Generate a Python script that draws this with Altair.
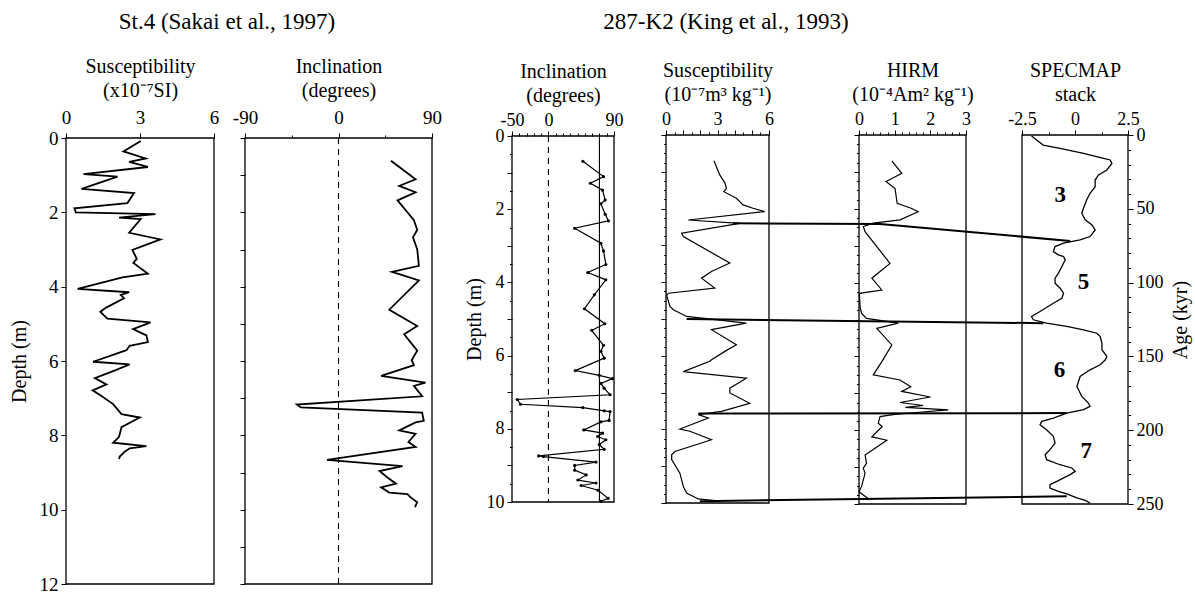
import altair as alt
import pandas as pd

FONT = "Liberation Serif"

headers = ["St.4 (Sakai et al., 1997)", "287-K2 (King et al., 1993)"]

# ---------------- St.4 susceptibility (x10^-7 SI) vs depth (m)
st4_sus_depth = [0.08, 0.36, 0.55, 0.64, 0.78, 0.97, 1.04, 1.37, 1.48, 1.75, 1.89, 2.00, 2.05, 2.14, 2.18,
                 2.55, 2.73, 3.01, 3.25, 3.36, 3.65, 3.75, 4.06, 4.15, 4.22, 4.31, 4.57, 4.68, 4.86, 4.96,
                 5.14, 5.31, 5.49, 5.59, 5.71, 6.02, 6.09, 6.24, 6.46, 6.63, 6.79, 6.94, 7.16, 7.43, 7.52,
                 7.78, 8.04, 8.20, 8.29, 8.35, 8.44, 8.57, 8.64]
st4_sus_val = [3.03, 2.33, 3.23, 2.56, 3.32, 0.71, 2.09, 0.63, 2.76, 2.49, 0.34, 0.40, 3.63, 2.15, 3.03,
               2.56, 3.83, 2.69, 2.87, 2.73, 3.32, 2.29, 0.47, 2.56, 2.22, 2.35, 1.61, 1.39, 1.68, 3.43,
               2.72, 3.26, 3.32, 2.58, 2.45, 1.10, 2.58, 2.04, 1.17, 1.64, 1.08, 1.44, 1.91, 2.25, 2.99,
               2.25, 2.15, 1.91, 3.26, 2.58, 2.38, 2.18, 2.15]

# ---------------- St.4 inclination (degrees)
st4_inc_depth = [0.61, 1.11, 1.29, 1.46, 1.68, 2.21, 2.47, 2.67, 3.00, 3.44, 3.60, 3.83, 4.62, 5.06, 5.28,
                 5.72, 5.98, 6.11, 6.40, 6.58, 6.67, 6.95, 7.17, 7.25, 7.39, 7.61, 7.65, 7.87, 7.96, 8.18,
                 8.31, 8.66, 8.83, 8.96, 9.14, 9.30, 9.40, 9.54, 9.58, 9.67, 9.80, 9.93]
st4_inc_val = [50.5, 74.2, 58.4, 74.2, 56.8, 72.6, 75.8, 71.7, 75.8, 77.4, 51.5, 77.4, 48.9, 75.8, 63.2,
               75.8, 70.4, 72.6, 41.0, 83.7, 72.6, 80.5, -40.1, -36.3, 80.5, 82.1, 74.2, 58.4, 74.2, 67.3,
               74.2, -11.1, 61.6, 39.5, 47.4, 55.3, 41.0, 48.9, 66.3, 69.5, 75.8, 73.6]

# ---------------- 287-K2 inclination (degrees)
k2_inc_depth = [0.69, 1.11, 1.29, 1.48, 1.75, 1.85, 2.14, 2.32, 2.52, 2.93, 3.14, 3.51, 3.73, 3.93, 4.34,
                4.72, 5.13, 5.31, 5.72, 5.88, 6.07, 6.41, 6.54, 6.63, 6.76, 6.89, 7.07, 7.20, 7.33, 7.42,
                7.51, 7.53, 7.77, 7.81, 8.03, 8.12, 8.21, 8.30, 8.43, 8.56, 8.74, 8.76, 8.91, 9.00, 9.13,
                9.26, 9.40, 9.48, 9.55, 9.68, 9.90, 9.98]
k2_inc_val = [47.3, 75.6, 57.6, 74.3, 77.9, 72.0, 77.9, 82.4, 36.0, 72.0, 75.6, 78.8, 54.0, 78.8, 63.0,
              49.5, 77.4, 59.4, 75.6, 72.0, 76.5, 36.9, 69.8, 87.8, 72.0, 76.5, 84.6, -42.8, -38.3, 47.3,
              76.5, 84.6, 83.3, 72.0, 48.6, 74.3, 67.5, 78.8, 69.8, 76.5, -13.5, -6.8, 65.3, 36.0, 36.0,
              51.8, 40.5, 65.3, 45.0, 68.0, 82.0, 72.0]
k2_inc_ref = 70

# ---------------- 287-K2 susceptibility (10^-7 m3/kg)
k2_sus_depth = [0.70, 1.09, 1.30, 1.45, 1.54, 1.72, 1.90, 1.99, 2.08, 2.31, 2.40, 2.67, 2.76, 3.48, 3.71,
                3.89, 4.16, 4.30, 4.36, 4.66, 4.75, 4.93, 5.11, 5.29, 5.70, 5.88, 6.11, 6.15, 6.43, 6.61,
                6.88, 7.01, 7.29, 7.51, 7.60, 7.69, 7.99, 8.05, 8.28, 8.60, 8.69, 8.82, 9.19, 9.55, 9.73,
                9.89, 9.95]
k2_sus_val = [2.79, 3.14, 3.43, 3.52, 3.37, 4.10, 4.49, 5.07, 5.75, 1.30, 4.30, 0.91, 1.01, 3.72, 2.65,
              2.07, 2.84, 0.14, 0.04, 0.23, 0.43, 1.20, 4.68, 2.65, 4.10, 3.43, 2.65, 2.55, 1.01, 4.68,
              3.72, 3.72, 4.88, 3.23, 1.88, 2.46, 0.81, 1.39, 2.65, 0.52, 0.33, 0.33, 0.81, 1.01, 1.20,
              1.88, 3.14]

# ---------------- 287-K2 HIRM (10^-4 Am2/kg)
k2_hirm_depth = [0.70, 1.04, 1.26, 1.45, 1.85, 1.99, 2.08, 2.30, 2.39, 2.48, 2.62, 3.48, 3.88, 4.20, 4.29,
                 4.65, 4.83, 4.97, 5.10, 5.24, 5.69, 6.14, 6.50, 6.64, 6.82, 6.95, 7.10, 7.25, 7.33, 7.38,
                 7.45, 7.52, 7.57, 7.63, 7.81, 7.90, 8.18, 8.27, 8.67, 8.90, 9.03, 9.17, 9.53, 9.67, 9.89]
k2_hirm_val = [0.92, 1.20, 0.76, 1.01, 1.07, 1.48, 1.66, 1.15, 0.40, 0.12, 0.17, 0.87, 0.36, 0.64, 0.01,
               0.03, 0.07, 0.21, 1.10, 0.50, 0.92, 0.64, 0.40, 1.15, 1.45, 1.20, 2.00, 1.15, 1.80, 1.30,
               2.50, 1.60, 1.00, 0.59, 0.54, 0.65, 0.36, 0.78, 0.17, 0.21, 0.12, 0.17, 0.07, 0.00, 0.31]

# ---------------- SPECMAP stack vs age (kyr)
spec_age = [0.7, 3.4, 6.8, 9.0, 12.4, 15.8, 16.9, 19.2, 23.7, 27.1, 30.5, 35.0, 39.5, 44.0, 49.6, 53.0,
            57.5, 60.9, 64.3, 68.8, 71.1, 73.3, 75.6, 79.0, 81.2, 82.4, 84.6, 89.1, 93.6, 97.0, 100.4,
            103.8, 107.2, 110.6, 114.0, 119.6, 123.0, 125.2, 127.5, 129.7, 132.0, 134.3, 136.5, 141.0,
            145.5, 150.0, 152.3, 155.7, 159.1, 163.6, 170.4, 177.1, 181.6, 183.9, 186.1, 188.4, 191.8,
            194.0, 196.3, 199.7, 204.2, 208.7, 213.2, 216.6, 220.0, 223.4, 225.6, 227.9, 230.1, 234.7,
            236.9, 239.2, 241.4, 243.2, 245.9, 247.5, 249.3]
spec_val = [-2.05, -1.81, -1.50, -0.71, 0.40, 1.35, 1.66, 1.74, 1.50, 1.11, 0.95, 0.95, 0.71, 0.55, 0.40,
            0.32, 0.48, 0.80, 0.95, 0.71, 0.24, -0.54, -0.94, -1.02, -0.78, -0.54, -0.46, -0.62, -0.78,
            -0.94, -0.94, -0.70, -0.54, -0.62, -1.02, -1.65, -2.05, -1.97, -1.34, -0.39, 0.40, 1.03, 1.19,
            1.27, 1.27, 1.50, 1.43, 1.19, 0.71, 0.24, 0.09, 0.32, 0.63, 0.71, 0.40, -0.39, -1.02, -1.57,
            -1.65, -1.34, -1.02, -0.94, -1.18, -1.41, -1.34, -0.71, -0.15, 0.01, -0.23, -0.86, -1.18,
            -1.18, -0.78, -0.39, 0.09, 0.48, 0.71]

stage_names = ["3", "5", "6", "7"]
stage_age = [40.6, 99.3, 159.0, 214.0]
stage_val = [-0.69, 0.40, -0.73, 0.53]

# tie lines: (panel, x value in that panel, y value in that panel)
tie_lines = [
    [("p4", 3.91, 2.40), ("p5", 0.59, 2.41), ("p6", -0.23, 71.8)],
    [("p4", 1.20, 5.00), ("p6", -1.49, 127.5)],
    [("p4", 1.88, 7.57), ("p6", -0.39, 188.4)],
    [("p4", 1.97, 9.95), ("p6", -0.39, 244.8)],
]

# ---------------- layout (pixel frames of each panel)
W, H = 1195, 602
FR = {
    "p1": dict(x=(66, 214), y=(138, 584), xd=(0, 6), yd=(0, 12)),
    "p2": dict(x=(245, 432), y=(138, 584), xd=(-90, 90), yd=(0, 12)),
    "p3": dict(x=(512, 614), y=(136, 502), xd=(-50, 90), yd=(0, 10)),
    "p4": dict(x=(666, 769), y=(135, 503), xd=(0, 6), yd=(0, 10)),
    "p5": dict(x=(859, 966), y=(135, 504), xd=(0, 3), yd=(0, 10)),
    "p6": dict(x=(1022, 1128), y=(135, 504), xd=(-2.5, 2.5), yd=(0, 250)),
}


def xs(p):
    f = FR[p]
    return alt.Scale(domain=list(f["xd"]), range=list(f["x"]), nice=False, zero=False)


def ys(p):
    f = FR[p]
    return alt.Scale(domain=list(f["yd"]), range=list(f["y"]), nice=False, zero=False)


def to_px_x(p, v):
    f = FR[p]
    return f["x"][0] + (v - f["xd"][0]) / (f["xd"][1] - f["xd"][0]) * (f["x"][1] - f["x"][0])


def to_px_y(p, v):
    f = FR[p]
    return f["y"][0] + (v - f["yd"][0]) / (f["yd"][1] - f["yd"][0]) * (f["y"][1] - f["y"][0])


def from_px_x(p, X):
    f = FR[p]
    return f["xd"][0] + (X - f["x"][0]) / (f["x"][1] - f["x"][0]) * (f["xd"][1] - f["xd"][0])


def from_px_y(p, Y):
    f = FR[p]
    return f["yd"][0] + (Y - f["y"][0]) / (f["y"][1] - f["y"][0]) * (f["yd"][1] - f["yd"][0])


def steps(a, b, s):
    n = int(round((b - a) / s))
    return [round(a + i * s, 4) for i in range(n + 1)]


def cond(vals):
    return " || ".join(f"abs(datum.value - ({v})) < 1e-6" for v in vals)


def top_axis(p, values, labelled, title, major=None, lfs=19, lpad=6, tpad=8):
    f = FR[p]
    major = labelled if major is None else major
    return alt.Axis(
        orient="top", offset=-f["y"][0], values=values,
        labelExpr=f"({cond(labelled)}) ? ('' + datum.value) : ''",
        tickSize={"condition": {"test": cond(major), "value": 5}, "value": 3},
        domain=False, grid=False, labelFlush=False, labelOverlap=False,
        labelFontSize=lfs, labelPadding=lpad, title=title, titlePadding=tpad,
        titleLineHeight=24, titleFontSize=20,
    )


def side_axis(p, orient, values, labelled, title=None, major=None, tpad=6, lfs=19):
    f = FR[p]
    off = -f["x"][0] if orient == "left" else f["x"][1] - W
    major = labelled if major is None else major
    kw = dict(
        orient=orient, offset=off, values=values,
        labelExpr=(f"({cond(labelled)}) ? ('' + datum.value) : ''" if labelled else "''"),
        tickSize={"condition": {"test": cond(major), "value": 5}, "value": 2.5},
        domain=False, grid=False, labelFlush=False, labelOverlap=False,
        labelFontSize=lfs, labelPadding=3, titleFontSize=20, titlePadding=tpad,
    )
    if title:
        kw["title"] = title
        if orient == "right":
            kw["titleAngle"] = 270
            kw["titleX"] = 52
            kw["titleY"] = (f["y"][0] + f["y"][1]) / 2
            kw["titleAlign"] = "center"
            kw["titleBaseline"] = "middle"
    else:
        kw["title"] = None
    return alt.Axis(**kw)


one = pd.DataFrame({"k": [0]})


def frame(p):
    f = FR[p]
    return alt.Chart(one).mark_rect(fillOpacity=0, stroke="black", strokeWidth=1.3).encode(
        x=alt.XDatum(f["xd"][0], scale=xs(p), axis=None),
        x2=alt.X2Datum(f["xd"][1]),
        y=alt.YDatum(f["yd"][0], scale=ys(p), axis=None),
        y2=alt.Y2Datum(f["yd"][1]),
    )


def curve(p, depth, val, sw, xaxis, yaxis):
    df = pd.DataFrame({"d": depth, "v": val, "i": list(range(len(depth)))})
    return alt.Chart(df).mark_line(color="black", strokeWidth=sw, clip=False).encode(
        x=alt.X("v:Q", scale=xs(p), axis=xaxis),
        y=alt.Y("d:Q", scale=ys(p), axis=yaxis),
        order="i:Q",
    )


def vrule(p, xval, dash):
    f = FR[p]
    mk = dict(color="black", strokeWidth=1.1)
    if dash:
        mk["strokeDash"] = [6, 5]
    return alt.Chart(one).mark_rule(**mk).encode(
        x=alt.XDatum(xval, scale=xs(p), axis=None),
        y=alt.YDatum(f["yd"][0], scale=ys(p), axis=None),
        y2=alt.Y2Datum(f["yd"][1]),
    )


layers = []

# ---- panel 1
layers += [
    frame("p1"),
    curve("p1", st4_sus_depth, st4_sus_val, 1.8,
          top_axis("p1", [0, 3, 6], [0, 3, 6], ["Susceptibility", "(x10⁻⁷SI)"]),
          side_axis("p1", "left", steps(0, 12, 2), steps(0, 12, 2), "Depth (m)", tpad=10)),
]

# ---- panel 2
layers += [
    frame("p2"),
    vrule("p2", 0, True),
    curve("p2", st4_inc_depth, st4_inc_val, 1.8,
          top_axis("p2", [-90, -45, 0, 45, 90], [-90, 0, 90], ["Inclination", "(degrees)"]),
          side_axis("p2", "left", steps(0, 12, 1), [], None, major=steps(0, 12, 1))),
]

# ---- panel 3
k2_inc_df = pd.DataFrame({"d": k2_inc_depth, "v": k2_inc_val})
layers += [
    frame("p3"),
    vrule("p3", 0, True),
    vrule("p3", k2_inc_ref, False),
    curve("p3", k2_inc_depth, k2_inc_val, 1.2,
          top_axis("p3", steps(-50, 90, 10), [-50, 0, 90], ["Inclination", "(degrees)"], lfs=18, lpad=2, tpad=6),
          side_axis("p3", "left", steps(0, 10, 0.5), steps(0, 10, 2), "Depth (m)",
                    major=steps(0, 10, 1), tpad=2, lfs=18)),
    alt.Chart(k2_inc_df).mark_circle(size=10, color="black", opacity=1, clip=False).encode(
        x=alt.X("v:Q", scale=xs("p3"), axis=None), y=alt.Y("d:Q", scale=ys("p3"), axis=None)),
]

# ---- tie lines (expressed in panel-4 units)
tie_rows = []
for li, pts in enumerate(tie_lines):
    for pi, (p, xv, yv) in enumerate(pts):
        tie_rows.append({
            "line": li, "i": pi,
            "x": from_px_x("p4", to_px_x(p, xv)),
            "d": from_px_y("p4", to_px_y(p, yv)),
        })
tie_df = pd.DataFrame(tie_rows)

# ---- panel 4
layers += [
    frame("p4"),
    curve("p4", k2_sus_depth, k2_sus_val, 1.2,
          top_axis("p4", steps(0, 6, 0.5), [0, 3, 6], ["Susceptibility", "(10⁻⁷m³ kg⁻¹)"],
                   major=steps(0, 6, 1), lfs=18, lpad=2, tpad=6),
          side_axis("p4", "left", steps(0, 10, 0.25), [], None, major=steps(0, 10, 1))),
    alt.Chart(tie_df).mark_line(color="black", strokeWidth=2, clip=False).encode(
        x=alt.X("x:Q", scale=xs("p4"), axis=None), y=alt.Y("d:Q", scale=ys("p4"), axis=None),
        detail="line:N", order="i:Q"),
]

# ---- panel 5
layers += [
    frame("p5"),
    curve("p5", k2_hirm_depth, k2_hirm_val, 1.2,
          top_axis("p5", steps(0, 3, 0.2), [0, 1, 2, 3], ["HIRM", "(10⁻⁴Am² kg⁻¹)"],
                   lfs=18, lpad=2, tpad=6),
          side_axis("p5", "left", steps(0, 10, 0.25), [], None, major=steps(0, 10, 1))),
]

# ---- panel 6
stage_df = pd.DataFrame({"a": stage_age, "v": stage_val, "s": stage_names})
layers += [
    frame("p6"),
    curve("p6", spec_age, spec_val, 1.3,
          top_axis("p6", [-2.5, -1.25, 0, 1.25, 2.5], [-2.5, 0, 2.5], ["SPECMAP", "stack"],
                   lfs=18, lpad=2, tpad=6),
          side_axis("p6", "right", steps(0, 250, 10), steps(0, 250, 50), "Age (kyr)",
                    major=steps(0, 250, 50), tpad=8, lfs=18)),
    alt.Chart(stage_df).mark_text(font=FONT, fontSize=23, fontWeight="bold", color="black").encode(
        x=alt.X("v:Q", scale=xs("p6"), axis=None), y=alt.Y("a:Q", scale=ys("p6"), axis=None), text="s:N"),
]

layers += [
    alt.Chart(pd.DataFrame({"t": [headers[0]]})).mark_text(
        font=FONT, fontSize=23, color="black").encode(text="t:N", x=alt.value(227), y=alt.value(22)),
    alt.Chart(pd.DataFrame({"t": [headers[1]]})).mark_text(
        font=FONT, fontSize=23, color="black").encode(text="t:N", x=alt.value(726), y=alt.value(22)),
]

chart = alt.layer(*layers).resolve_scale(
    x="independent", y="independent"
).properties(
    width=W, height=H, padding=0, autosize=alt.AutoSizeParams(type="none"),
).configure_view(stroke=None).configure_axis(
    labelFont=FONT, titleFont=FONT, labelColor="black", titleColor="black",
    tickColor="black", titleFontWeight="normal", domainColor="black",
)

chart.save("out.html", embed_options={"renderer": "svg", "actions": False})
